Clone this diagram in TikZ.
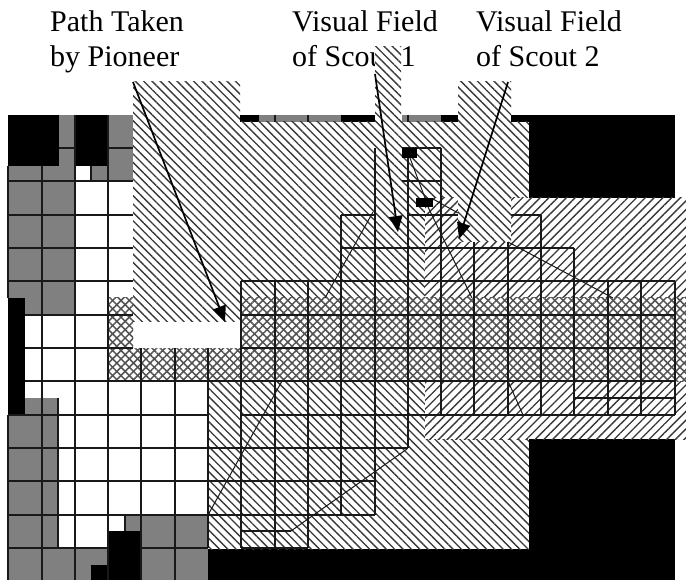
\documentclass[tikz,border=0pt]{standalone}
\usepackage{fontspec}
\setmainfont{Liberation Serif}
\usetikzlibrary{patterns.meta,arrows.meta}
\tikzset{
  back/.style={pattern={Lines[angle=-45,distance=5.9pt,line width=1.35pt]},pattern color=black!78},
  fwd/.style={pattern={Lines[angle=45,distance=6.2pt,line width=1.35pt]},pattern color=black!78},
  crossa/.style={pattern={Lines[angle=45,distance=5.9pt,line width=1.5pt]},pattern color=black!68},
  crossb/.style={pattern={Lines[angle=-45,distance=5.9pt,line width=1.5pt]},pattern color=black!68},
  cellgray/.style={fill=black!50},
  solid black/.style={fill=black},
  gridline/.style={line width=1.2pt,black!90},
  trace/.style={line width=1pt,black!90},
  pointer/.style={line width=1.7pt,-{Triangle[length=16pt,width=13.5pt]}},
  label/.style={anchor=base west,inner sep=0pt,font=\fontsize{30pt}{33pt}\selectfont}
}
\begin{document}
\begin{tikzpicture}[x=1pt,y=-1pt]
\useasboundingbox (0,0) rectangle (686,580);
\fill[white] (0,0) rectangle (686,580);
% labels
\node[label] (t1a) at (50,32) {Path Taken};
\node[label] (t1b) at (50,67) {by Pioneer};
\node[label] (t2a) at (292,32) {Visual Field};
\node[label] (t2b) at (292,67) {of Scout 1};
\node[label] (t3a) at (476,32) {Visual Field};
\node[label] (t3b) at (476,67) {of Scout 2};
% gray cells
\foreach \a/\b/\c/\d in {59/115/75/181,108/115/133/181,8/166/75/315,91/166/108/181,25/398/58/415,8/415/58/548,8/548/108/580,125/515/141/531,141/515/208/580,259/115/341/122,402/115/441/122,529/183/541/198}
  \fill[cellgray] (\a,\b) rectangle (\c,\d);
% black cells
\foreach \a/\b/\c/\d in {8/115/59/166,75/115/108/166,8/298/25/415,91/565/108/580,108/531/141/580,208/549/529/580,529/439/675/580,240/115/259/122,341/115/375/122,441/115/458/122,511/115/675/122,529/122/675/198}
  \fill[solid black] (\a,\b) rectangle (\c,\d);
% hatched visual fields
\fill[back] (240,122) rectangle (529,298);
\fill[back] (208,381) rectangle (529,549);
\fill[white] (425,198) rectangle (686,439);
\fill[fwd] (425,198) rectangle (686,439);
% crosshatched path of the pioneer
\foreach \a/\b/\c/\d in {108/298/133/381,133/348/240/381,240/298/686/381}{
  \fill[white] (\a,\b) rectangle (\c,\d);
  \fill[crossa] (\a,\b) rectangle (\c,\d);
  \fill[crossb] (\a,\b) rectangle (\c,\d);
}
% tall patches of hatching
\foreach \a/\b/\c/\d in {133/82/240/322,375/47/401/122,458/82/511/242}{
  \fill[white] (\a,\b) rectangle (\c,\d);
  \fill[back] (\a,\b) rectangle (\c,\d);
}
% grid: verticals
\foreach \x/\a/\b in {8/166/298,8/415/580,42/166/580,58/398/548,75/115/580,91/166/181,108/115/580,125/515/531,141/348/580,175/348/580,208/348/548,241/281/548,275/281/548,308/281/548,341/215/515,375/148/515,408/158/448,441/148/415,474/242/415,508/242/415,541/215/415,574/248/415,608/281/415,641/281/415,675/281/415,275/115/122,308/115/122,408/115/122}
  \draw[gridline] (\x,\a) -- (\x,\b);
% grid: horizontals
\foreach \y/\a/\b in {148/59/75,148/108/133,148/402/441,181/8/133,181/402/441,215/8/133,215/341/375,215/408/458,215/511/541,248/8/133,248/341/574,281/8/133,281/241/675,315/25/133,315/241/675,348/25/133,348/241/675,381/25/675,398/574/675,415/8/208,415/241/675,448/8/408,481/8/375,515/8/375,548/8/108,548/141/208,548/241/308,531/241/291}
  \draw[gridline] (\a,\y) -- (\b,\y);
% robots
\fill[solid black] (402,148) rectangle (417,158);
\fill[solid black] (416,198) rectangle (433,207);
% scout traces
\coordinate (p1) at (291,531); \coordinate (p2) at (407,449);
\coordinate (p3) at (208,515); \coordinate (p4) at (282,381);
\coordinate (p5) at (325,298); \coordinate (p6) at (373,212);
\coordinate (p7) at (410,158); \coordinate (p8) at (425,198);
\coordinate (p9) at (428,207); \coordinate (p10) at (472,298);
\coordinate (p11) at (433,199); \coordinate (p12) at (458,213);
\coordinate (p13) at (508,242); \coordinate (p14) at (613,298);
\coordinate (p15) at (508,381); \coordinate (p16) at (523,415);
\foreach \u/\v in {p1/p2,p3/p4,p5/p6,p7/p8,p9/p10,p11/p12,p13/p14,p15/p16}
  \draw[trace] (\u) -- (\v);
% pointers
\coordinate (a1) at (133,82); \coordinate (b1) at (225,322);
\coordinate (a2) at (375,74); \coordinate (b2) at (398,232);
\coordinate (a3) at (508,82); \coordinate (b3) at (459,239);
\draw[pointer] (a1) -- (b1);
\draw[pointer] (a2) -- (b2);
\draw[pointer] (a3) -- (b3);
\end{tikzpicture}
\end{document}
